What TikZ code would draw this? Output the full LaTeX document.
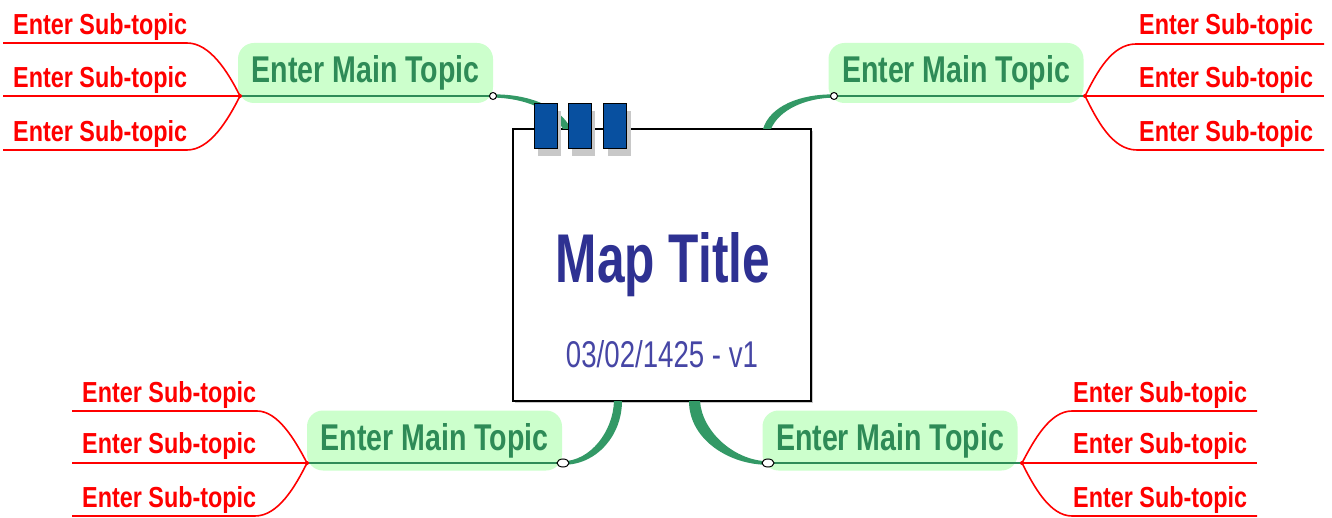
\documentclass[tikz,border=0pt]{standalone}
\usepackage{fontspec}
\setmainfont{Liberation Sans}
\usetikzlibrary{calc,shapes.geometric}
\definecolor{topicgreen}{RGB}{46,139,87}
\definecolor{topicfill}{RGB}{204,255,204}
\definecolor{conngreen}{RGB}{51,153,102}
\definecolor{subred}{RGB}{255,0,0}
\definecolor{titleblue}{RGB}{46,49,146}
\definecolor{dateblue}{RGB}{70,70,165}
\definecolor{blockblue}{RGB}{8,80,160}
\definecolor{shadowgray}{RGB}{200,200,200}
\newcommand{\fitText}[3]{\resizebox{#1pt}{#2pt}{#3}}
\newcommand{\subTxt}{\fitText{174}{21}{\bfseries Enter Sub-topic}}
\newcommand{\mainTxt}{\fitText{228}{27}{\bfseries Enter Main Topic}}
\begin{document}
\begin{tikzpicture}[x=1pt,y=-1pt,
  maintopic/.style={rounded corners=16pt, fill=topicfill, minimum width=255pt, minimum height=60pt, inner sep=0pt, text=topicgreen},
  subtext/.style={anchor=base west, inner sep=0pt, text=subred},
  subline/.style={draw=subred, line width=1.6pt},
  topicline/.style={draw=topicgreen, line width=2pt},
  conn/.style={fill=conngreen},
  knob/.style={circle, draw=black, fill=white, line width=1pt, inner sep=0pt, minimum size=7pt},
  knobwide/.style={ellipse, draw=black, fill=white, line width=1pt, inner sep=0pt, minimum width=12pt, minimum height=8pt},
  junction/.style={circle, fill=subred, inner sep=0pt, minimum size=4pt},
  blockbox/.style={draw=black, fill=blockblue, line width=1pt, minimum width=23pt, minimum height=45pt, inner sep=0pt},
  blockshadow/.style={fill=shadowgray, minimum width=23pt, minimum height=45pt, inner sep=0pt},
]
\useasboundingbox (0,0) rectangle (1332,518);
\fill[white] (0,0) rectangle (1332,518);

% ---------- central box ----------
\node[fill=shadowgray, minimum width=298pt, minimum height=272pt, inner sep=0pt] (centershadow) at (664,267) {};
\node[draw=black, fill=white, line width=1.6pt, minimum width=298pt, minimum height=272pt, inner sep=0pt] (center) at (662,265) {};
\node[anchor=base, inner sep=0pt, text=titleblue] (title) at (663,283) {\fitText{214}{50}{\bfseries Map Title}};
\node[anchor=base, inner sep=0pt, text=dateblue] (date) at (662,367) {\fitText{192}{27}{03/02/1425 - v1}};

% ---------- connector anchor points ----------
\coordinate (kTLc) at (493,96);
\coordinate (kTRc) at (834,96);
\coordinate (kBLc) at (563,463);
\coordinate (kBRc) at (768,463);

% ---------- green connectors (tapered) ----------
\fill[conn] ($(kTLc)+(0,-1.6)$) .. controls (528,94) and (560,106) .. (571,129)
  -- (563,129) .. controls (553,110) and (525,98) .. ($(kTLc)+(0,1.6)$) -- cycle;
\fill[conn] ($(kTRc)+(0,-1.6)$) .. controls (800,94) and (770,106) .. (763,129)
  -- (771,129) .. controls (779,110) and (805,98) .. ($(kTRc)+(0,1.6)$) -- cycle;
\fill[conn] ($(kBLc)+(0,1.8)$) .. controls (597,465) and (622,435) .. (622,401)
  -- (614,401) .. controls (613,432) and (590,461) .. ($(kBLc)+(0,-1.8)$) -- cycle;
\fill[conn] ($(kBRc)+(0,1.8)$) .. controls (730,465) and (689,440) .. (689,401)
  -- (700,401) .. controls (702,432) and (735,461) .. ($(kBRc)+(0,-1.8)$) -- cycle;

% ---------- blue blocks ----------
\node[blockshadow] (s1) at (549.5,133.5) {};
\node[blockshadow] (s2) at (583.5,133.5) {};
\node[blockshadow] (s3) at (619,133.5) {};
\node[blockbox] (b1) at (545.5,126.5) {};
\node[blockbox] (b2) at (579.5,126.5) {};
\node[blockbox] (b3) at (615,126.5) {};

% ---------- main topics ----------
\node[maintopic] (mTL) at (365.5,73) {\mainTxt};
\node[maintopic] (mTR) at (956,73) {\mainTxt};
\node[maintopic] (mBL) at (434.5,440.5) {\mainTxt};
\node[maintopic] (mBR) at (890,440.5) {\mainTxt};

% junctions
\coordinate (jTL) at (240,96);
\coordinate (jTR) at (1085,96);
\coordinate (jBL) at (307,463);
\coordinate (jBR) at (1022,463);

\draw[topicline] (jTL) -- (kTLc);
\draw[topicline] (kTRc) -- (jTR);
\draw[topicline] (jBL) -- (kBLc);
\draw[topicline] (kBRc) -- (jBR);

% ---------- sub-topics: top left ----------
\coordinate (tl1a) at (3,43);   \coordinate (tl1b) at (187,43);
\coordinate (tl2a) at (3,96);
\coordinate (tl3a) at (3,150);  \coordinate (tl3b) at (187,150);
\draw[subline] (tl1a) -- (tl1b) .. controls (210,43) and (228,72) .. (jTL);
\draw[subline] (tl2a) -- (jTL);
\draw[subline] (tl3a) -- (tl3b) .. controls (210,150) and (228,120) .. (jTL);
\node[subtext] (stl1) at (13,35) {\subTxt};
\node[subtext] (stl2) at (13,88) {\subTxt};
\node[subtext] (stl3) at (13,142) {\subTxt};

% ---------- sub-topics: top right ----------
\coordinate (tr1a) at (1136,44);  \coordinate (tr1b) at (1324,44);
\coordinate (tr2b) at (1324,96);
\coordinate (tr3a) at (1137,150); \coordinate (tr3b) at (1324,150);
\draw[subline] (jTR) .. controls (1097,72) and (1112,44) .. (tr1a) -- (tr1b);
\draw[subline] (jTR) -- (tr2b);
\draw[subline] (jTR) .. controls (1097,120) and (1112,150) .. (tr3a) -- (tr3b);
\node[subtext] (str1) at (1139,35) {\subTxt};
\node[subtext] (str2) at (1139,88) {\subTxt};
\node[subtext] (str3) at (1139,142) {\subTxt};

% ---------- sub-topics: bottom left ----------
\coordinate (bl1a) at (72,411);  \coordinate (bl1b) at (257,411);
\coordinate (bl2a) at (72,463);
\coordinate (bl3a) at (72,516);  \coordinate (bl3b) at (255,516);
\draw[subline] (bl1a) -- (bl1b) .. controls (278,411) and (295,440) .. (jBL);
\draw[subline] (bl2a) -- (jBL);
\draw[subline] (bl3a) -- (bl3b) .. controls (278,516) and (295,487) .. (jBL);
\node[subtext] (sbl1) at (82,402) {\subTxt};
\node[subtext] (sbl2) at (82,453) {\subTxt};
\node[subtext] (sbl3) at (82,507) {\subTxt};

% ---------- sub-topics: bottom right ----------
\coordinate (br1a) at (1072,411);  \coordinate (br1b) at (1257,411);
\coordinate (br2b) at (1257,463);
\coordinate (br3a) at (1072,516);  \coordinate (br3b) at (1257,516);
\draw[subline] (jBR) .. controls (1034,440) and (1050,411) .. (br1a) -- (br1b);
\draw[subline] (jBR) -- (br2b);
\draw[subline] (jBR) .. controls (1034,487) and (1050,516) .. (br3a) -- (br3b);
\node[subtext] (sbr1) at (1073,402) {\subTxt};
\node[subtext] (sbr2) at (1073,453) {\subTxt};
\node[subtext] (sbr3) at (1073,507) {\subTxt};

% ---------- junction dots and knobs ----------
\node[junction] (djTL) at (jTL) {};
\node[junction] (djTR) at (jTR) {};
\node[junction] (djBL) at (jBL) {};
\node[junction] (djBR) at (jBR) {};
\node[knob] (kTL) at (kTLc) {};
\node[knob] (kTR) at (kTRc) {};
\node[knobwide] (kBL) at (kBLc) {};
\node[knobwide] (kBR) at (kBRc) {};
\end{tikzpicture}
\end{document}
